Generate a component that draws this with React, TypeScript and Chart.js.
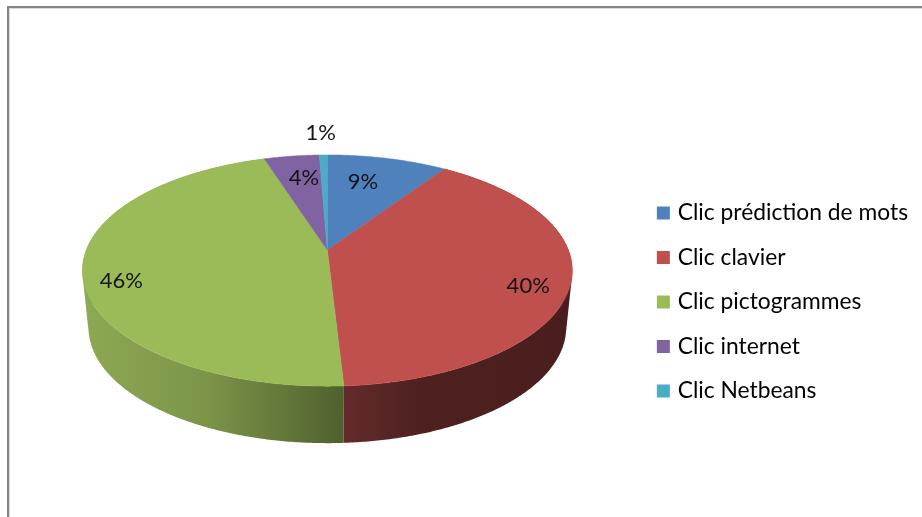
import React, { useEffect, useRef } from "react";
import { Chart, registerables } from "chart.js";

Chart.register(...registerables);

const categories = ["Clic prédiction de mots", "Clic clavier", "Clic pictogrammes", "Clic internet", "Clic Netbeans"];
const shares = [9.4, 39.7, 45.95, 4.33, 0.62];
const sliceColors = ["#4f81bd", "#c0504d", "#9bbb59", "#8064a2", "#4bacc6"];
// horizontal gradient stops of the visible outer wall: [slice index, [stop offset, colour]...]
const wallStops: [number, [number, string][]][] = [
  [2, [[0.0, "#8ea953"], [0.48, "#7b9448"], [1.0, "#4f612e"]]],
  [1, [[0.0, "#652b2b"], [0.15, "#5a2626"], [0.33, "#4e2120"], [1.0, "#4a1e1e"]]],
];
// label anchor as horizontal / vertical multiples of the slice's mid rim vector
const labelFactors: [number, number][] = [[0.5, 0.8], [0.85, 0.52], [0.855, 0.5], [0.55, 0.81], [1.4, 1.19]];

const FONT = "Lato";
const TILT_P = -0.1775;
const TILT_Y = 0.457;
const TILT_X = 0.984;
const WALL_DEPTH = 0.2327;
const WALL_SCALE = 0.975;

function project(arc: any, angle: number, shrink = 1, drop = 0) {
  const u = Math.cos(angle);
  const v = Math.sin(angle);
  const w = 1 + TILT_P * v;
  const R = arc.outerRadius;
  return {
    x: arc.x + (R * TILT_X * shrink * u) / w,
    y: arc.y + (R * TILT_Y * v) / w + drop * R,
  };
}

const pie3d = {
  id: "pie3d",
  afterLayout(chart: any) {
    chart.legend.top += 52;
    chart.legend.bottom += 52;
  },
  beforeDatasetsDraw(chart: any) {
    const ctx = chart.ctx as CanvasRenderingContext2D;
    const arcs = chart.getDatasetMeta(0).data as any[];
    const step = Math.PI / 360;

    // outer wall
    wallStops.forEach(([index, stops]) => {
      const arc = arcs[index];
      const x0 = index === 2 ? arc.x - arc.outerRadius : project(arc, arc.endAngle).x;
      const x1 = index === 2 ? project(arc, arc.startAngle).x : arc.x + arc.outerRadius;
      const grad = ctx.createLinearGradient(x0, 0, x1, 0);
      stops.forEach(([o, c]) => grad.addColorStop(o, c));
      ctx.save();
      ctx.fillStyle = grad;
      ctx.beginPath();
      for (let a = arc.startAngle; a < arc.endAngle; a += step) {
        const b = Math.min(a + step, arc.endAngle);
        const quad = [
          project(arc, a),
          project(arc, b),
          project(arc, b, WALL_SCALE, WALL_DEPTH),
          project(arc, a, WALL_SCALE, WALL_DEPTH),
        ];
        let area = 0;
        quad.forEach((p, k) => {
          const q = quad[(k + 1) % 4];
          area += p.x * q.y - q.x * p.y;
        });
        if (area < 0) quad.reverse();
        ctx.moveTo(quad[0].x, quad[0].y);
        ctx.lineTo(quad[1].x, quad[1].y);
        ctx.lineTo(quad[2].x, quad[2].y);
        ctx.lineTo(quad[3].x, quad[3].y);
        ctx.closePath();
      }
      ctx.fill("nonzero");
      ctx.restore();
    });

    // top face
    arcs.forEach((arc, i) => {
      ctx.save();
      ctx.fillStyle = sliceColors[i];
      ctx.strokeStyle = sliceColors[i];
      ctx.lineWidth = 0.5;
      ctx.beginPath();
      ctx.moveTo(arc.x, arc.y);
      for (let a = arc.startAngle; a < arc.endAngle; a += step) {
        const p = project(arc, a);
        ctx.lineTo(p.x, p.y);
      }
      const e = project(arc, arc.endAngle);
      ctx.lineTo(e.x, e.y);
      ctx.closePath();
      ctx.fill();
      ctx.stroke();
      ctx.restore();
    });

    // value labels
    const total = shares.reduce((s, v) => s + v, 0);
    ctx.save();
    ctx.font = `22px ${FONT}`;
    ctx.fillStyle = "#141414";
    ctx.textAlign = "center";
    ctx.textBaseline = "middle";
    arcs.forEach((arc, i) => {
      const mid = (arc.startAngle + arc.endAngle) / 2;
      const [fx, fy] = labelFactors[i];
      const x = arc.x + arc.outerRadius * Math.cos(mid) * fx;
      const y = 270.5 + arc.outerRadius * 0.4714 * Math.sin(mid) * fy;
      ctx.fillText(`${Math.round((shares[i] / total) * 100)}%`, x, y);
    });
    ctx.restore();
    return false;
  },
};

export default function App() {
  const ref = useRef<HTMLCanvasElement>(null);
  useEffect(() => {
    const chart = new Chart(ref.current!, {
      type: "pie",
      data: {
        labels: categories,
        datasets: [{ data: shares, backgroundColor: sliceColors, borderWidth: 0, radius: 245 }],
      },
      options: {
        animation: false,
        responsive: false,
        layout: { padding: { left: 16, right: 4, top: 0, bottom: 17 } },
        plugins: {
          tooltip: { enabled: false },
          legend: {
            position: "right",
            labels: {
              color: "#141414",
              font: { family: FONT, size: 22.8 },
              boxWidth: 6,
              boxHeight: 6,
              padding: 21.7,
              generateLabels: () =>
                categories.map((text, i) => ({
                  text,
                  fillStyle: sliceColors[i],
                  strokeStyle: sliceColors[i],
                  lineWidth: 7,
                  hidden: false,
                  index: i,
                })),
            },
          },
        },
      },
      plugins: [pie3d],
    } as any);
    return () => chart.destroy();
  }, []);
  return (
    <div style={{ position: "fixed", inset: 0, background: "#fff", overflow: "hidden" }}>
      <canvas
        ref={ref}
        width={922}
        height={517}
        style={{ display: "block", position: "absolute", left: 0, top: 0, filter: "blur(0.4px)" }}
      />
      <div
        style={{
          position: "absolute",
          left: 7,
          top: 6,
          right: -4,
          bottom: -4,
          borderLeft: "2px solid #868686",
          borderTop: "2px solid #868686",
          boxShadow: "inset 1px 1px 0 #d9d9d9",
        }}
      />
    </div>
  );
}
